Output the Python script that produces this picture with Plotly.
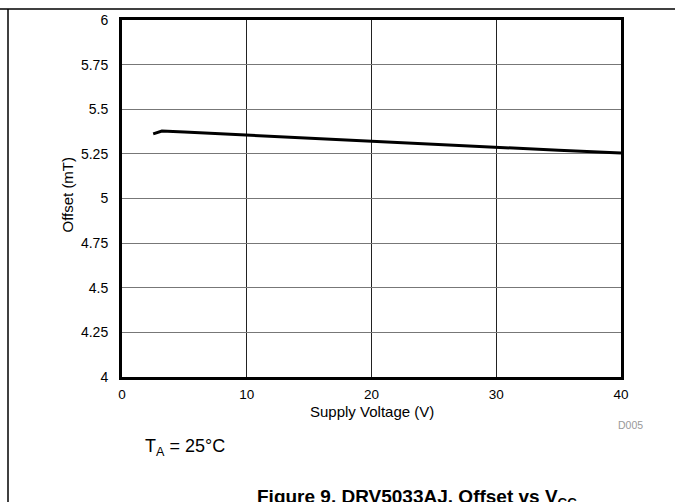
import plotly.graph_objects as go

# Data
supply_voltage = [2.5, 3.2, 5, 10, 15, 20, 25, 30, 35, 40]
offset_mT = [5.362, 5.378, 5.372, 5.355, 5.337, 5.318, 5.301, 5.285, 5.270, 5.255]
x_ticks = [0, 10, 20, 30, 40]
y_ticks = [4, 4.25, 4.5, 4.75, 5, 5.25, 5.5, 5.75, 6]
y_tick_labels = ["4", "4.25", "4.5", "4.75", "5", "5.25", "5.5", "5.75", "6"]

W, H = 675, 502
L, R, T, B = 122, 54, 17, 125
pw, ph = W - L - R, H - T - B

def px(xp):
    return (xp - L) / pw

def py(yp):
    return (H - B - yp) / ph

FONT = "Liberation Sans, Arial, sans-serif"

fig = go.Figure()
fig.add_trace(go.Scatter(x=supply_voltage, y=offset_mT, mode="lines",
                         line=dict(color="black", width=3), showlegend=False,
                         hoverinfo="skip"))

fig.update_layout(
    width=W, height=H,
    margin=dict(l=L, r=R, t=T, b=B, pad=0),
    paper_bgcolor="white", plot_bgcolor="white",
    font=dict(family=FONT, size=14, color="black"),
    xaxis=dict(range=[0, 40], tickvals=x_ticks, ticks="", showgrid=True,
               gridcolor="#222", gridwidth=1, zeroline=False,
               showline=True, linecolor="black", linewidth=3, mirror=True,
               tickfont=dict(size=13.5, family=FONT), ticklabelstandoff=3),
    yaxis=dict(range=[4, 6], tickvals=y_ticks, ticktext=y_tick_labels, ticks="",
               showgrid=True, gridcolor="#777", gridwidth=1, zeroline=False,
               showline=True, linecolor="black", linewidth=3, mirror=True,
               tickfont=dict(size=14, family=FONT), ticklabelstandoff=8),
    shapes=[
        dict(type="line", xref="paper", yref="paper", x0=px(0), x1=px(W),
             y0=py(6), y1=py(6), line=dict(color="black", width=1.5)),
        dict(type="line", xref="paper", yref="paper", x0=px(8), x1=px(8),
             y0=py(6), y1=py(H + 5), line=dict(color="black", width=1.5)),
    ],
    annotations=[
        dict(text="Supply Voltage (V)", xref="paper", yref="paper",
             x=px(372), y=py(412), showarrow=False, xanchor="center", yanchor="middle",
             font=dict(size=15, family=FONT)),
        dict(text="Offset (mT)", xref="paper", yref="paper", textangle=-90,
             x=px(68), y=py(193), showarrow=False, xanchor="center", yanchor="middle",
             font=dict(size=15, family=FONT)),
        dict(text="D005", xref="paper", yref="paper",
             x=px(645), y=py(425), showarrow=False, xanchor="right", yanchor="middle",
             font=dict(size=10.5, family=FONT, color="#999")),
        dict(text="T<sub>A</sub> = 25°C", xref="paper", yref="paper",
             x=px(143), y=py(448), showarrow=False, xanchor="left", yanchor="middle",
             font=dict(size=18, family=FONT)),
        dict(text="<b>Figure 9. DRV5033AJ. Offset vs V<sub>CC</sub></b>", xref="paper", yref="paper",
             x=px(417), y=py(485), showarrow=False, xanchor="center", yanchor="top",
             font=dict(size=19, family=FONT)),
    ],
)

fig.write_html("out.html", config={"displayModeBar": False},
               post_script="document.body.style.margin='0';document.body.style.padding='0';")
